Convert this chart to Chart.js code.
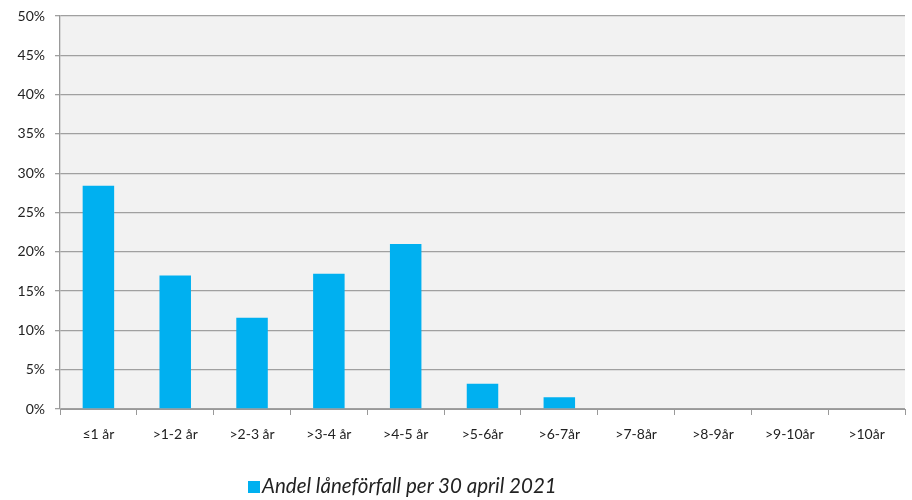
<!DOCTYPE html>
<html>
<head>
<meta charset="utf-8">
<script src="https://cdn.jsdelivr.net/npm/chart.js@4.4.1/dist/chart.umd.min.js"></script>
<style>
  body { margin: 0; background: #fff; }
  #wrap { position: relative; width: 912px; height: 500px; }
  #legend {
    position: absolute; left: 248px; top: 473px;
    font-family: Lato, "Open Sans", sans-serif;
    font-style: italic; font-size: 20.5px; color: #222; white-space: nowrap;
  }
  #legend span.box { display: inline-block; width: 12px; height: 12px; background: #00b0f0; margin-right: 2px; }
</style>
</head>
<body>
<div id="wrap">
  <canvas id="myChart" width="912" height="500"></canvas>
  <div id="legend"><span class="box"></span>Andel låneförfall per 30 april 2021</div>
</div>
<script>
// data
const kategorier = ['≤1 år', '>1-2 år', '>2-3 år', '>3-4 år', '>4-5 år', '>5-6år', '>6-7år', '>7-8år', '>8-9år', '>9-10år', '>10år'];
const andel = [28.4, 17.0, 11.6, 17.2, 21.0, 3.2, 1.5, 0, 0, 0, 0];
const serieNamn = 'Andel låneförfall per 30 april 2021';

// gray plot area behind the bars
const bakgrund = {
  id: 'bakgrund',
  beforeDraw(chart) {
    const { ctx, chartArea: a } = chart;
    ctx.save();
    ctx.fillStyle = '#f2f2f2';
    ctx.fillRect(a.left, a.top, a.right - a.left, a.bottom - a.top);
    ctx.restore();
  }
};

const fontFam = 'Lato, "Open Sans", sans-serif';

const ctx = document.getElementById('myChart');
new Chart(ctx, {
  type: 'bar',
  data: {
    labels: kategorier,
    datasets: [{
      label: serieNamn,
      data: andel,
      backgroundColor: '#00b0f0',
      borderWidth: 0,
      barPercentage: 0.41,
      categoryPercentage: 1
    }]
  },
  options: {
    responsive: false,
    animation: false,
    layout: { padding: { top: 16, right: 7, bottom: 0, left: 0 } },
    plugins: { legend: { display: false }, tooltip: { enabled: false } },
    scales: {
      x: {
        grid: { offset: true, drawOnChartArea: false, color: '#999', tickLength: 6 },
        border: { color: '#999', width: 1 },
        ticks: { padding: 11, color: '#222', maxRotation: 0, font: { family: fontFam, size: 14 } },
        afterFit(scale) { scale.height = 91; scale.paddingLeft = 0; scale.paddingRight = 0; }
      },
      y: {
        min: 0, max: 50,
        grid: { color: '#a0a0a0', lineWidth: 1.3, tickLength: 5 },
        border: { color: '#999', width: 1.3 },
        ticks: {
          stepSize: 5, padding: 10, color: '#222',
          font: { family: fontFam, size: 14 },
          callback: (v) => v + '%'
        },
        afterFit(scale) { scale.width = 60; scale.paddingTop = 0; scale.paddingBottom = 0; }
      }
    }
  },
  plugins: [bakgrund]
});
</script>
</body>
</html>
